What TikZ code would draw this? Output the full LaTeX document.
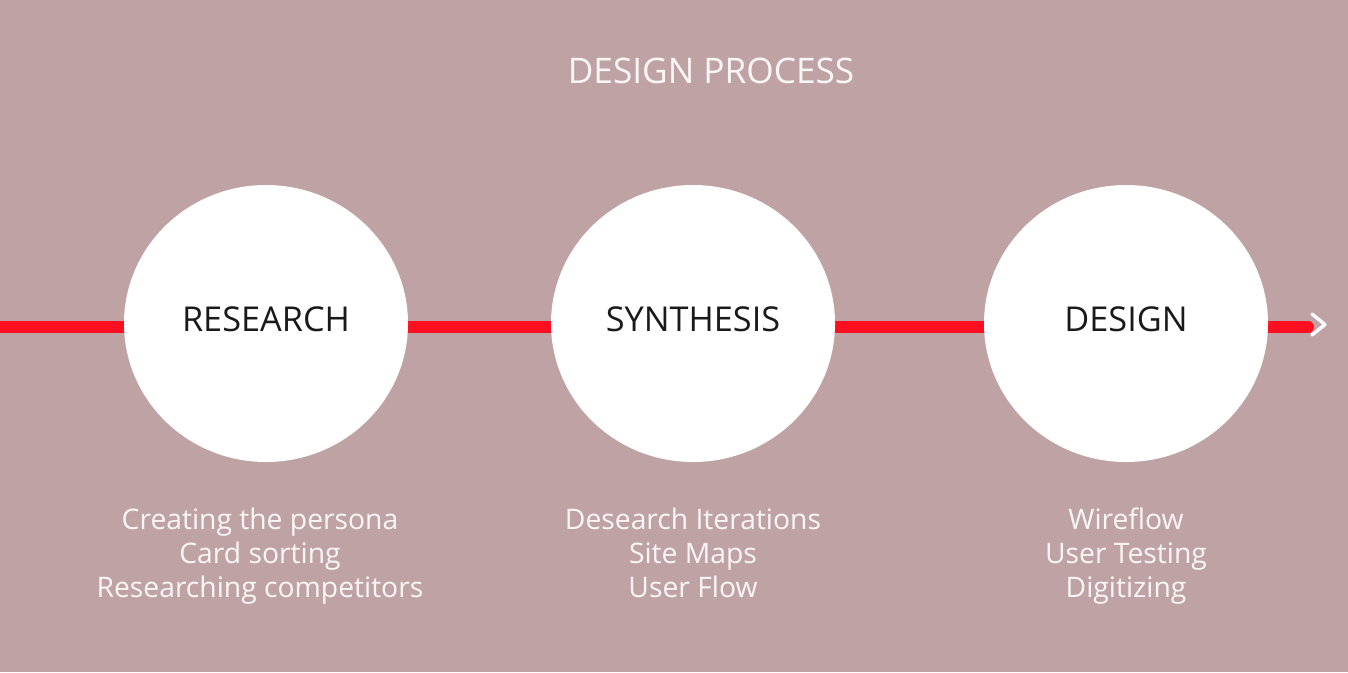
\documentclass[tikz,border=0pt]{standalone}
\usepackage{fontspec}
\setmainfont{Open Sans}
\usetikzlibrary{shapes.geometric}
\definecolor{bg}{HTML}{BFA3A4}
\definecolor{flow}{HTML}{FF1021}
\definecolor{ink}{HTML}{1A1A1A}
\definecolor{soft}{HTML}{FAF6F6}
\begin{document}
\begin{tikzpicture}[x=0.75pt,y=-0.75pt,
  stage/.style={ellipse, fill=white, minimum width=284*0.75pt, minimum height=277*0.75pt, inner sep=0pt},
  stagelabel/.style={anchor=base, text=ink, font=\fontsize{25.7}{30}\selectfont},
  % anchor=base of a multi-line node sits on its last line
  tasks/.style={anchor=base, align=center, text=soft, font=\fontsize{21.2}{25.5}\selectfont, inner sep=0pt},
  timeline/.style={draw=flow, line width=12*0.75pt, line cap=round},
  chevron/.style={draw=white, line width=3.4*0.75pt, line cap=round, line join=round}
]
\fill[bg] (0,0) rectangle (1348,672);
\useasboundingbox (0,0) rectangle (1348,672);

% title
\node[anchor=base, text=soft, font=\fontsize{26.4}{30}\selectfont] (title) at (711,83) {DESIGN PROCESS};

% timeline behind the stages
\coordinate (start) at (-10,327);
\coordinate (end) at (1308,327);
\draw[timeline] (start) -- (end);

% arrow head at the end of the timeline
\coordinate (tipa) at (1312,314);
\coordinate (tipb) at (1325,324.5);
\coordinate (tipc) at (1312,335);
\draw[chevron] (tipa) -- (tipb) -- (tipc);

% stages
\node[stage] (research) at (266,323.5) {};
\node[stage] (synthesis) at (693,323.5) {};
\node[stage] (design) at (1126,323.5) {};

\node[stagelabel] (researchlabel) at (266,331) {RESEARCH};
\node[stagelabel] (synthesislabel) at (693,331) {SYNTHESIS};
\node[stagelabel] (designlabel) at (1126,331) {DESIGN};

% activities under each stage
\node[tasks] (researchtasks) at (260,597) {Creating the persona\\Card sorting\\Researching competitors};
\node[tasks] (synthesistasks) at (693,597) {Desearch Iterations\\Site Maps\\User Flow};
\node[tasks] (designtasks) at (1126,597) {Wireflow\\User Testing\\Digitizing};
\end{tikzpicture}
\end{document}
